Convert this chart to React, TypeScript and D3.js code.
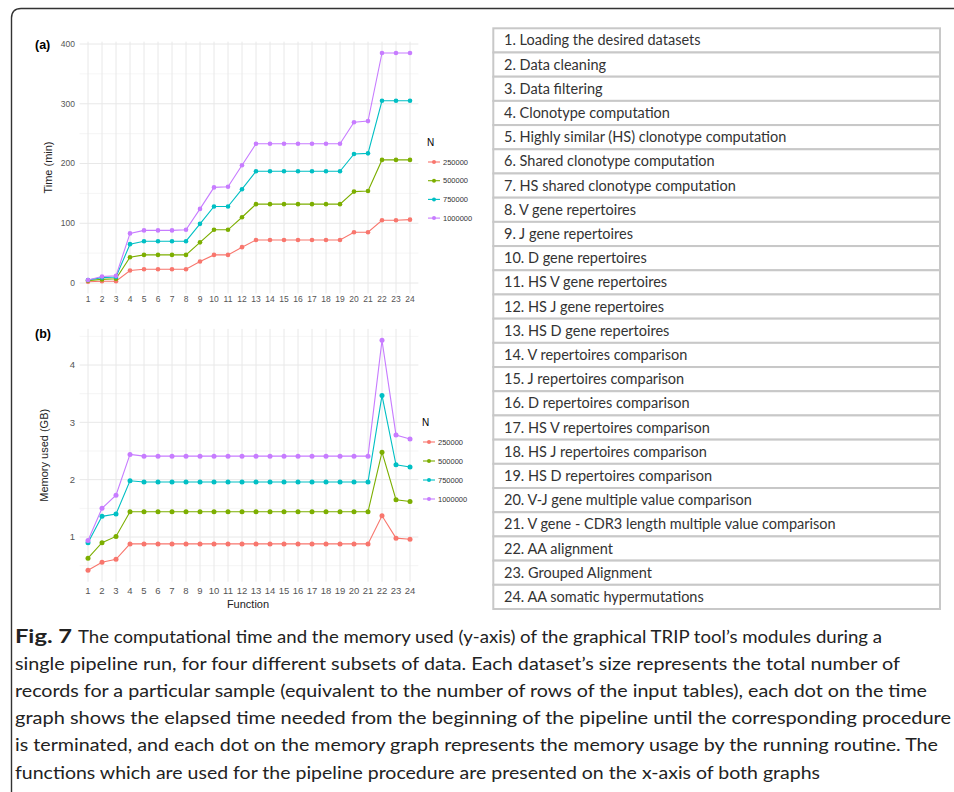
import React, { useEffect, useRef } from "react";
import * as d3 from "d3";

// x categories (pipeline functions)
const functions = d3.range(1, 25).map(String);
const sizes = ["250000", "500000", "750000", "1000000"];
const colors = ["#F8766D", "#7CAE00", "#00BFC4", "#C77CFF"];

// (a) cumulative time (min)
const time250k = [2, 3, 3, 21, 23, 23, 23, 23, 36, 47, 47, 60, 72, 72, 72, 72, 72, 72, 72, 85, 85, 105, 105, 106];
const time500k = [4, 6, 7, 43, 47, 47, 47, 47, 68, 89, 89, 110, 132, 132, 132, 132, 132, 132, 132, 153, 154, 206, 206, 206];
const time750k = [5, 9, 10, 65, 70, 70, 70, 70, 99, 128, 128, 157, 187, 187, 187, 187, 187, 187, 187, 216, 217, 305, 305, 305];
const time1000k = [5, 11, 12, 83, 88, 88, 88, 89, 124, 160, 161, 197, 233, 233, 233, 233, 233, 233, 233, 269, 271, 385, 385, 385];

// (b) memory used (GB)
const mem250k = [0.42, 0.56, 0.61, 0.88, 0.88, 0.88, 0.88, 0.88, 0.88, 0.88, 0.88, 0.88, 0.88, 0.88, 0.88, 0.88, 0.88, 0.88, 0.88, 0.88, 0.88, 1.37, 0.98, 0.96];
const mem500k = [0.63, 0.9, 1.01, 1.44, 1.44, 1.44, 1.44, 1.44, 1.44, 1.44, 1.44, 1.44, 1.44, 1.44, 1.44, 1.44, 1.44, 1.44, 1.44, 1.44, 1.44, 2.48, 1.65, 1.62];
const mem750k = [0.9, 1.36, 1.4, 1.98, 1.96, 1.96, 1.96, 1.96, 1.96, 1.96, 1.96, 1.96, 1.96, 1.96, 1.96, 1.96, 1.96, 1.96, 1.96, 1.96, 1.96, 3.47, 2.26, 2.22];
const mem1000k = [0.94, 1.5, 1.73, 2.44, 2.41, 2.41, 2.41, 2.41, 2.41, 2.41, 2.41, 2.41, 2.41, 2.41, 2.41, 2.41, 2.41, 2.41, 2.41, 2.41, 2.41, 4.43, 2.78, 2.71];

const timeTicks = [0, 100, 200, 300, 400];
const memTicks = [1, 2, 3, 4];

const tableRows = [
  "1. Loading the desired datasets",
  "2. Data cleaning",
  "3. Data filtering",
  "4. Clonotype computation",
  "5. Highly similar (HS) clonotype computation",
  "6. Shared clonotype computation",
  "7. HS shared clonotype computation",
  "8. V gene repertoires",
  "9. J gene repertoires",
  "10. D gene repertoires",
  "11. HS V gene repertoires",
  "12. HS J gene repertoires",
  "13. HS D gene repertoires",
  "14. V repertoires comparison",
  "15. J repertoires comparison",
  "16. D repertoires comparison",
  "17. HS V repertoires comparison",
  "18. HS J repertoires comparison",
  "19. HS D repertoires comparison",
  "20. V-J gene multiple value comparison",
  "21. V gene - CDR3 length multiple value comparison",
  "22. AA alignment",
  "23. Grouped Alignment",
  "24. AA somatic hypermutations",
];

const captionLines = [
  "The computational time and the memory used (y-axis) of the graphical TRIP tool\u2019s modules during a",
  "single pipeline run, for four different subsets of data. Each dataset\u2019s size represents the total number of",
  "records for a particular sample (equivalent to the number of rows of the input tables), each dot on the time",
  "graph shows the elapsed time needed from the beginning of the pipeline until the corresponding procedure",
  "is terminated, and each dot on the memory graph represents the memory usage by the running routine. The",
  "functions which are used for the pipeline procedure are presented on the x-axis of both graphs",
];
const captionEnds = [882, 900, 927, 951, 938, 820];

const App = () => {
  const ref = useRef<SVGSVGElement>(null);

  useEffect(() => {
    const svg = d3.select(ref.current);
    svg.selectAll("*").remove();
    const chartFont = "'Liberation Sans', Arial, sans-serif";

    // outer frame
    svg
      .append("path")
      .attr("d", "M11.5,800 L11.5,18 Q11.5,8.5 21,8.5 L960,8.5")
      .attr("fill", "none")
      .attr("stroke", "#333")
      .attr("stroke-width", 1.4);

    const x = d3.scalePoint<string>().domain(functions).range([88, 410]);
    const xLeft = 79.6,
      xRight = 418.4;

    const drawPanel = (opts: {
      y: d3.ScaleLinear<number, number>;
      lo: number;
      hi: number;
      major: number[];
      minor: number[];
      series: number[][];
      tickSize: number;
      xLabelY: number;
      letter: string;
      letterY: number;
      yTitle: string;
      yTitleX: number;
      legendX: number;
      legendY: number;
      legendStep: number;
      r: number;
    }) => {
      const { y } = opts;
      const g = svg.append("g");
      const top = y(opts.hi),
        bottom = y(opts.lo);

      // grid
      g.selectAll(".minor")
        .data(opts.minor)
        .join("line")
        .attr("x1", xLeft)
        .attr("x2", xRight)
        .attr("y1", (d) => y(d))
        .attr("y2", (d) => y(d))
        .attr("stroke", "#f3f3f3")
        .attr("stroke-width", 0.8);
      g.selectAll(".major")
        .data(opts.major)
        .join("line")
        .attr("x1", xLeft)
        .attr("x2", xRight)
        .attr("y1", (d) => y(d))
        .attr("y2", (d) => y(d))
        .attr("stroke", "#e8e8e8")
        .attr("stroke-width", 1);
      g.selectAll(".vgrid")
        .data(functions)
        .join("line")
        .attr("x1", (d) => x(d)!)
        .attr("x2", (d) => x(d)!)
        .attr("y1", top)
        .attr("y2", bottom)
        .attr("stroke", "#e8e8e8")
        .attr("stroke-width", 1);

      // axis labels
      g.selectAll(".ylab")
        .data(opts.major)
        .join("text")
        .attr("x", 75)
        .attr("y", (d) => y(d))
        .attr("dy", "0.35em")
        .attr("text-anchor", "end")
        .attr("font-family", chartFont)
        .attr("font-size", opts.tickSize)
        .attr("fill", "#555")
        .text((d) => d);
      g.selectAll(".xlab")
        .data(functions)
        .join("text")
        .attr("x", (d) => x(d)!)
        .attr("y", opts.xLabelY)
        .attr("text-anchor", "middle")
        .attr("font-family", chartFont)
        .attr("font-size", opts.tickSize)
        .attr("fill", "#555")
        .text((d) => d);

      g.append("text")
        .attr("x", 35)
        .attr("y", opts.letterY)
        .attr("font-family", chartFont)
        .attr("font-weight", "bold")
        .attr("font-size", 12.5)
        .text(opts.letter);

      const mid = (top + bottom) / 2;
      g.append("text")
        .attr("transform", `translate(${opts.yTitleX},${mid}) rotate(-90)`)
        .attr("text-anchor", "middle")
        .attr("font-family", chartFont)
        .attr("font-size", 11)
        .attr("fill", "#222")
        .text(opts.yTitle);

      // lines + points
      const line = d3
        .line<number>()
        .x((_, i) => x(functions[i])!)
        .y((d) => y(d));
      opts.series.forEach((vals, s) => {
        g.append("path")
          .datum(vals)
          .attr("fill", "none")
          .attr("stroke", colors[s])
          .attr("stroke-width", 1.1)
          .attr("d", line);
        g.selectAll(`.pt${s}`)
          .data(vals)
          .join("circle")
          .attr("cx", (_, i) => x(functions[i])!)
          .attr("cy", (d) => y(d))
          .attr("r", opts.r)
          .attr("fill", colors[s]);
      });

      // legend
      const lg = g.append("g").attr("transform", `translate(${opts.legendX},${opts.legendY})`);
      lg.append("text")
        .attr("x", -1)
        .attr("y", -10)
        .attr("font-family", chartFont)
        .attr("font-size", 10)
        .text("N");
      sizes.forEach((s, i) => {
        const yy = 6 + i * opts.legendStep;
        lg.append("line")
          .attr("x1", 0)
          .attr("x2", 12)
          .attr("y1", yy)
          .attr("y2", yy)
          .attr("stroke", colors[i])
          .attr("stroke-width", 1.1);
        lg.append("circle").attr("cx", 6).attr("cy", yy).attr("r", 2).attr("fill", colors[i]);
        lg.append("text")
          .attr("x", 15)
          .attr("y", yy)
          .attr("dy", "0.35em")
          .attr("font-family", chartFont)
          .attr("font-size", 7.5)
          .attr("fill", "#333")
          .text(s);
      });
    };

    drawPanel({
      y: d3.scaleLinear().domain([0, 400]).range([283, 44]),
      lo: -17.5,
      hi: 404,
      major: timeTicks,
      minor: [50, 150, 250, 350],
      series: [time250k, time500k, time750k, time1000k],
      tickSize: 8.5,
      xLabelY: 302,
      letter: "(a)",
      letterY: 49,
      yTitle: "Time (min)",
      yTitleX: 52,
      legendX: 428,
      legendY: 156,
      legendStep: 18.7,
      r: 2.3,
    });

    drawPanel({
      y: d3.scaleLinear().domain([1, 4]).range([537, 365]),
      lo: 0.22,
      hi: 4.63,
      major: memTicks,
      minor: [0.5, 1.5, 2.5, 3.5, 4.5],
      series: [mem250k, mem500k, mem750k, mem1000k],
      tickSize: 9.5,
      xLabelY: 594,
      letter: "(b)",
      letterY: 338,
      yTitle: "Memory used (GB)",
      yTitleX: 48,
      legendX: 423,
      legendY: 436,
      legendStep: 19,
      r: 2.5,
    });

    svg
      .append("text")
      .attr("x", 248)
      .attr("y", 608)
      .attr("text-anchor", "middle")
      .attr("font-family", chartFont)
      .attr("font-size", 11)
      .attr("fill", "#222")
      .text("Function");

    // function table
    const rowY = d3.scaleBand().domain(tableRows).range([28.3, 609]);
    const tg = svg.append("g");
    tg.selectAll("rect")
      .data(tableRows)
      .join("rect")
      .attr("x", 493.3)
      .attr("y", (d) => rowY(d)!)
      .attr("width", 446.7)
      .attr("height", rowY.bandwidth())
      .attr("fill", "#fff")
      .attr("stroke", "#c8c8c8")
      .attr("stroke-width", 2);
    tg.selectAll("text")
      .data(tableRows)
      .join("text")
      .attr("x", 504)
      .attr("y", (d) => rowY(d)! + rowY.bandwidth() / 2)
      .attr("dy", "0.35em")
      .attr("font-family", "Lato, 'Open Sans', sans-serif")
      .attr("font-size", 14.5)
      .attr("fill", "#333")
      .text((d) => d);

    // caption
    const capFont = "Lato, 'Liberation Sans', sans-serif";
    const baseY = 643;
    captionLines.forEach((t, i) => {
      const start = i === 0 ? 78 : 15;
      if (i === 0) {
        svg
          .append("text")
          .attr("x", 15)
          .attr("y", baseY)
          .attr("font-family", capFont)
          .attr("font-weight", "bold")
          .attr("font-size", 18)
          .attr("textLength", 57)
          .attr("lengthAdjust", "spacingAndGlyphs")
          .attr("fill", "#222")
          .text("Fig. 7");
      }
      svg
        .append("text")
        .attr("x", start)
        .attr("y", baseY + i * 27.1)
        .attr("font-family", capFont)
        .attr("font-size", 18)
        .attr("textLength", captionEnds[i] - start)
        .attr("lengthAdjust", "spacingAndGlyphs")
        .attr("fill", "#222")
        .text(t);
    });
  }, []);

  return (
    <svg
      ref={ref}
      width={954}
      height={792}
      style={{ position: "absolute", left: 0, top: 0, background: "#fff" }}
    />
  );
};

export default App;
